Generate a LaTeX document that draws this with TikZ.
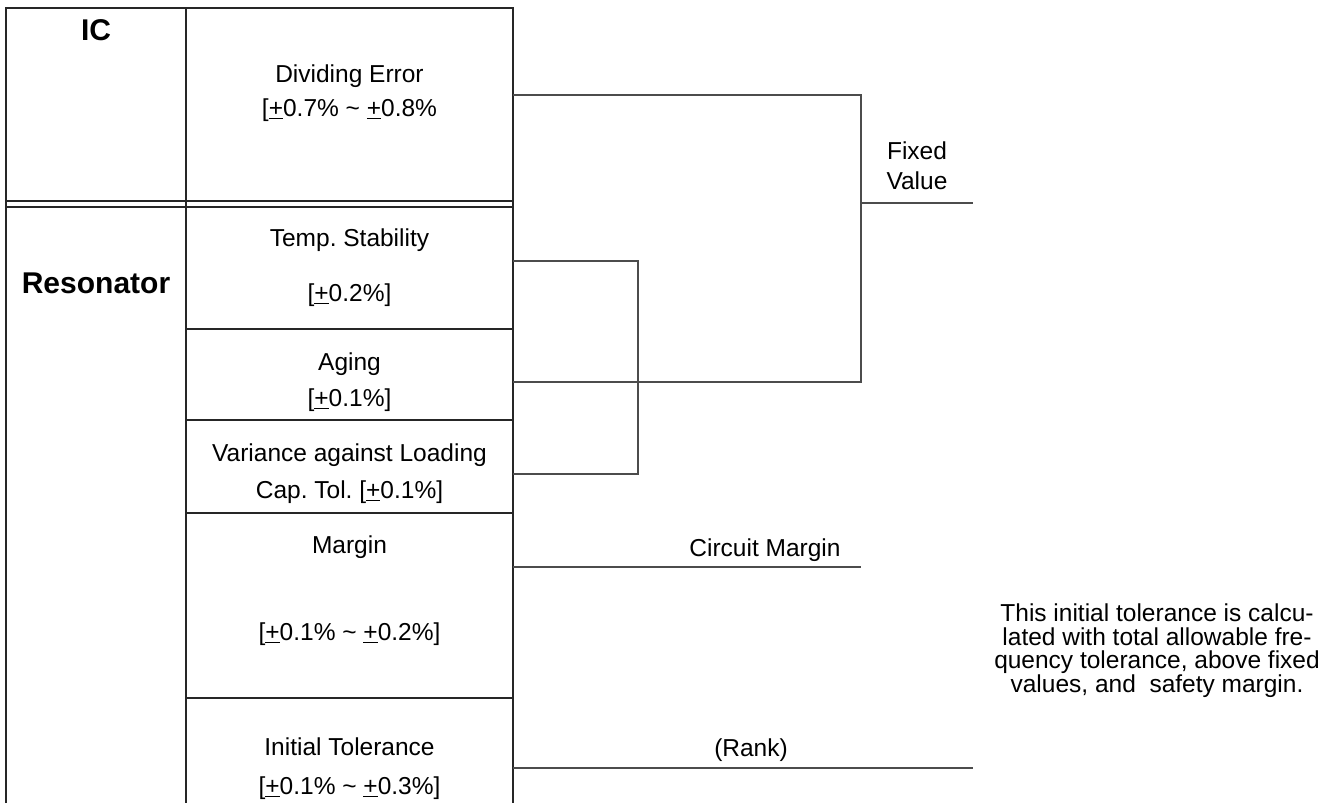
\documentclass[tikz,border=0pt]{standalone}
\usepackage{fontspec}
\setmainfont{Liberation Sans}
\usetikzlibrary{positioning,calc}

\newcommand{\pmu}{\underline{+}}

\begin{document}
\frenchspacing
\begin{tikzpicture}[x=1pt,y=-1pt,
  txt/.style={inner sep=0pt,text height=17.5pt,text depth=0pt,font=\fontsize{24.5}{28}\selectfont},
  head/.style={inner sep=0pt,text height=21.5pt,text depth=0pt,font=\fontsize{30}{34}\selectfont\bfseries},
  rule/.style={draw=black!85,line width=1.1pt},
  wire/.style={draw=black!70,line width=1.1pt}]
  \useasboundingbox (0,0) rectangle (1341,803);
  \def\xl{6}   % left edge of the table
  \def\xm{186} % column split
  \def\xr{513} % right edge of the table
  \def\cx{349.5} % centre of the right column
  % table frame
  \draw[rule] (\xl,803) -- (\xl,8) -- (\xr,8) -- (\xr,803);
  \draw[rule] (\xm,8) -- (\xm,803);
  % double line between IC and Resonator
  \foreach \y in {201,207} {
    \draw[rule] (\xl,\y) -- (\xr,\y);
  }
  % rows of the right column
  \foreach \y in {329,420,513,698} {
    \draw[rule] (\xm,\y) -- (\xr,\y);
  }
  % headings
  \node[head] (ic) at (96,30) {IC};
  \node[head] (reso) at (96,283) {Resonator};
  % entries
  \node[txt] (div1) at (\cx,74) {Dividing Error};
  \node[txt] (div2) at (\cx,108) {[\pmu0.7\% \textasciitilde{} \pmu0.8\%};
  \node[txt] (temp1) at (\cx,238) {Temp. Stability};
  \node[txt] (temp2) at (\cx,293) {[\pmu0.2\%]};
  \node[txt] (age1) at (\cx,362) {Aging};
  \node[txt] (age2) at (\cx,398) {[\pmu0.1\%]};
  \node[txt] (var1) at (\cx,453) {Variance against Loading};
  \node[txt] (var2) at (\cx,490) {Cap. Tol. [\pmu0.1\%]};
  \node[txt] (marg1) at (\cx,545) {Margin};
  \node[txt] (marg2) at (\cx,632) {[\pmu0.1\% \textasciitilde{} \pmu0.2\%]};
  \node[txt] (init1) at (\cx,747) {Initial Tolerance};
  \node[txt] (init2) at (\cx,786) {[\pmu0.1\% \textasciitilde{} \pmu0.3\%]};
  % connector ends
  \coordinate (de) at (\xr,95);
  \coordinate (ts) at (\xr,261);
  \coordinate (ag) at (\xr,382);
  \coordinate (vl) at (\xr,474);
  \coordinate (mg) at (\xr,567);
  \coordinate (it) at (\xr,768);
  \coordinate (j1) at (638,261);
  \coordinate (j2) at (638,474);
  \coordinate (k1) at (861,95);
  \coordinate (k2) at (861,382);
  \coordinate (k3) at (861,203);
  \coordinate (fv) at (973,203);
  \coordinate (cm) at (861,567);
  \coordinate (rk) at (973,768);
  % brackets
  \draw[wire] (ts) -- (j1) -- (j2) -- (vl);
  \draw[wire] (de) -- (k1) -- (k2) -- (ag);
  \draw[wire] (k3) -- (fv);
  \draw[wire] (mg) -- (cm);
  \draw[wire] (it) -- (rk);
  % labels on the lines
  \node[txt] (fix1) at (917,151) {Fixed};
  \node[txt] (fix2) at (917,181) {Value};
  \node[txt] (circ) at (765,548) {Circuit Margin};
  \node[txt] (rank) at (751,748) {(Rank)};
  % note on the right
  \foreach \t [count=\i] in {This initial tolerance is calcu-,
      lated with total allowable fre-,
      {quency tolerance, above fixed},
      {values, and \ safety margin.}} {
    \node[txt] (note\i) at (1157,613+23.5*\i-23.5) {\t};
  }
\end{tikzpicture}
\end{document}
